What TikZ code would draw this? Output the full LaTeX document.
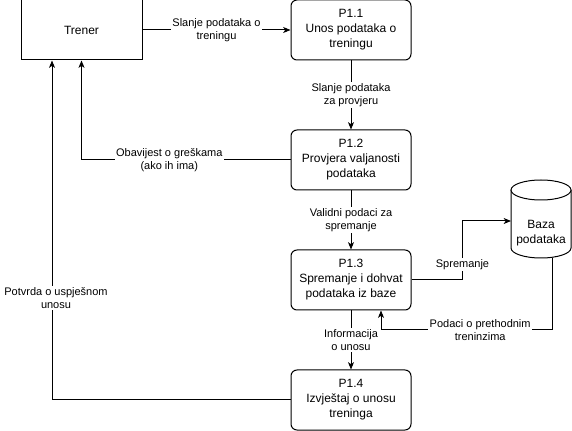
\documentclass[tikz,border=0pt]{standalone}
\usepackage{fontspec}
\setmainfont{Liberation Sans}
\usetikzlibrary{arrows.meta,calc}
\tikzset{
  entitybox/.style={
    draw=black,
    fill=white,
    line width=0.75pt,
    minimum width=90.75pt,
    minimum height=45pt,
    font=\fontsize{9}{11.25}\selectfont
  },
  processbox/.style={
    draw=black,
    fill=white,
    line width=0.75pt,
    rounded corners=4.5pt,
    minimum width=90pt,
    minimum height=45pt,
    inner sep=1pt,
    align=center,
    font=\fontsize{9}{11.25}\selectfont
  },
  storebody/.style={
    draw=black,
    fill=white,
    line width=0.75pt
  },
  flow/.style={
    draw=black,
    line width=0.75pt,
    -{Stealth[length=5.5pt,width=4.5pt,inset=1.5pt]}
  },
  flowlabel/.style={
    fill=white,
    inner sep=1pt,
    align=center,
    font=\fontsize{8.25}{9.75}\selectfont
  }
}

\begin{document}
\begin{tikzpicture}[x=0.75pt,y=-0.75pt]

  \useasboundingbox (0,0) rectangle (572,431);

  % External entity and the four processes of the column.
  \node[entitybox]  (trener) at ( 81.5, 30) {Trener};
  \node[processbox] (p11)    at (351, 30) {P1.1\\Unos podataka o\\treningu};
  \node[processbox] (p12)    at (351,160) {P1.2\\Provjera valjanosti\\podataka};
  \node[processbox] (p13)    at (351,280) {P1.3\\Spremanje i dohvat\\podataka iz baze};
  \node[processbox] (p14)    at (351,400) {P1.4\\Izvještaj o unosu\\treninga};

  % Data store drawn as a cylinder.
  \path[storebody] (511,190) -- (511,248)
    arc[start angle=180,end angle=0,x radius=30,y radius=10] -- (571,190);
  \path[storebody] (541,190) ellipse[x radius=30,y radius=10];
  \node[align=center,font=\fontsize{9}{11.25}\selectfont] (baza) at (541,233)
    {Baza\\podataka};
  \coordinate (bazain)  at (511,221);
  \coordinate (bazaout) at (552,258);

  % Flows down the column.
  \draw[flow] (trener) -- (p11)
    node[flowlabel,midway] {Slanje podataka o\\treningu};
  \draw[flow] (p11) -- (p12)
    node[flowlabel,midway] {Slanje podataka\\za provjeru};
  \draw[flow] (p12) -- (p13)
    node[flowlabel,midway] {Validni podaci za\\spremanje};
  \draw[flow] (p13) -- (p14)
    node[flowlabel,midway] {Informacija\\o unosu};

  % Flows between P1.3 and the data store.
  \draw[flow] (p13.east) -- ++(51,0) |- (bazain)
    node[flowlabel,pos=0.13] {Spremanje};
  \draw[flow] (bazaout) -- ++(0,72) -| ($(p13.south)+(30,0)$)
    node[flowlabel,pos=0.21] {Podaci o prethodnim\\treninzima};

  % Flows back to the trainer.
  \draw[flow] (p12.west) -| (trener.south)
    node[flowlabel,pos=0.29] {Obavijest o greškama\\(ako ih ima)};
  \draw[flow] (p14.west) -| ($(trener.south)+(-29.5,0)$)
    node[flowlabel,pos=0.65,xshift=3pt] {Potvrda o uspješnom\\unosu};

\end{tikzpicture}
\end{document}
